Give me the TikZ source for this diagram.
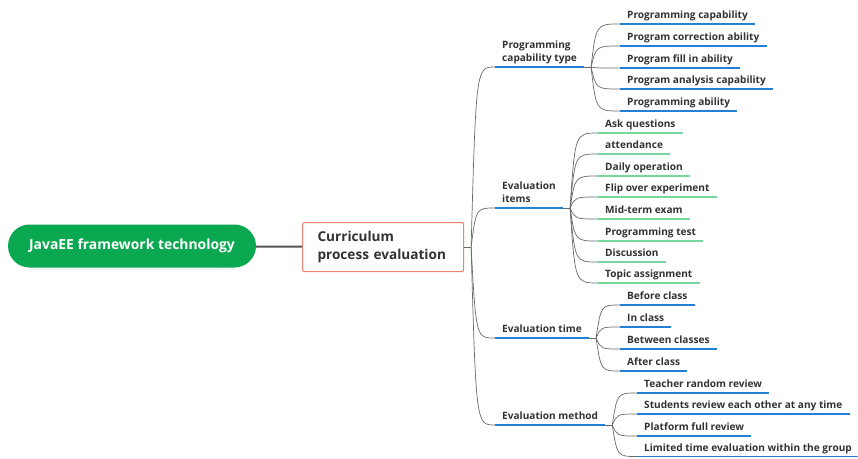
\documentclass[tikz,border=0pt]{standalone}
\usepackage{fontspec}
\setmainfont{Open Sans}
\usetikzlibrary{calc}

\definecolor{rootgreen}{RGB}{10,168,80}
\definecolor{boxred}{RGB}{240,128,112}
\definecolor{lineblue}{RGB}{36,128,214}
\definecolor{linegreen}{RGB}{118,214,158}
\definecolor{txtgray}{RGB}{50,50,50}
\definecolor{branchgray}{RGB}{105,105,105}

\tikzset{
  branch/.style={draw=branchgray, line width=0.7pt},
  fork/.style={to path={.. controls ($(\tikztostart |- \tikztotarget)+(5,0)$) .. (\tikztotarget)}},
  topic/.style={anchor=south west, inner xsep=7pt, inner ysep=2.5pt, text depth=2.5pt,
    font=\bfseries\fontsize{10.1}{13}\selectfont, text=txtgray, align=left},
  blueline/.style={draw=lineblue, line width=1.4pt},
  greenline/.style={draw=linegreen, line width=1.4pt},
}

\begin{document}
\begin{tikzpicture}[x=1pt,y=-1pt]
        \useasboundingbox (0,0) rectangle (858,458);
        % root and main box
        \node[fill=rootgreen, text=white, rounded corners=21.5pt, minimum width=248, minimum height=43,
              font=\bfseries\fontsize{13.9}{16}\selectfont] (root) at (132,246) {JavaEE framework technology};
        \node[draw=boxred, line width=1.1pt, fill=white, rounded corners=2pt, anchor=north west,
              minimum height=49, inner xsep=15pt, text width=131, text=txtgray, align=left,
              font=\bfseries\fontsize{13.6}{18}\selectfont] (cpe) at (302,222) {Curriculum\\process evaluation};
        \draw[draw=branchgray!80!black, line width=2pt] (root) -- (cpe);

        % categories
        \node[topic] (pct) at (495,67) {Programming\\capability type};
        \node[topic] (eit) at (495,208) {Evaluation\\items};
        \node[topic] (etm) at (495,338) {Evaluation time};
        \node[topic] (emt) at (495,425) {Evaluation method};

        % programming capability type
        \node[topic] (cap1) at (620,24) {Programming capability};
        \node[topic] (cap2) at (620,46) {Program correction ability};
        \node[topic] (cap3) at (620,68) {Program fill in ability};
        \node[topic] (cap4) at (620,89) {Program analysis capability};
        \node[topic] (cap5) at (620,111) {Programming ability};

        % evaluation items
        \node[topic] (item1) at (598,133) {Ask questions};
        \node[topic] (item2) at (598,154) {attendance};
        \node[topic] (item3) at (598,176) {Daily operation};
        \node[topic] (item4) at (598,197) {Flip over experiment};
        \node[topic] (item5) at (598,219) {Mid-term exam};
        \node[topic] (item6) at (598,241) {Programming test};
        \node[topic] (item7) at (598,262) {Discussion};
        \node[topic] (item8) at (598,283) {Topic assignment};

        % evaluation time
        \node[topic] (time1) at (620,305) {Before class};
        \node[topic] (time2) at (620,327) {In class};
        \node[topic] (time3) at (620,349) {Between classes};
        \node[topic] (time4) at (620,371) {After class};

        % evaluation method
        \node[topic] (way1) at (637,393) {Teacher random review};
        \node[topic] (way2) at (637,414) {Students review each other at any time};
        \node[topic] (way3) at (637,436) {Platform full review};
        \node[topic] (way4) at (637,456.5) {Limited time evaluation within the group};

        % branches
        \draw[branch] (cpe.east) -- ++(7,0) coordinate (hub);
        \foreach \c in {pct,eit,etm,emt}
          \draw[branch] (hub) to[fork] (\c.south west);
        \draw[branch] (pct.south east) -- ++(7,0) coordinate (pcthub);
        \draw[branch] (eit.south east) -- ++(7,0) coordinate (eithub);
        \draw[branch] (etm.south east) -- ++(7,0) coordinate (etmhub);
        \draw[branch] (emt.south east) -- ++(7,0) coordinate (emthub);
        \foreach \k in {1,...,5}
          \draw[branch] (pcthub) to[fork] (cap\k.south west);
        \foreach \k in {1,...,8}
          \draw[branch] (eithub) to[fork] (item\k.south west);
        \foreach \k in {1,...,4}{
          \draw[branch] (etmhub) to[fork] (time\k.south west);
          \draw[branch] (emthub) to[fork] (way\k.south west);
        }

        % underlines
        \foreach \n in {pct,eit,etm,emt,cap1,cap2,cap3,cap4,cap5,time1,time2,time3,time4,way1,way2,way3,way4}
          \draw[blueline] (\n.south west) -- (\n.south east);
        \foreach \k in {1,...,8}
          \draw[greenline] (item\k.south west) -- (item\k.south east);
    \end{tikzpicture}
\end{document}
